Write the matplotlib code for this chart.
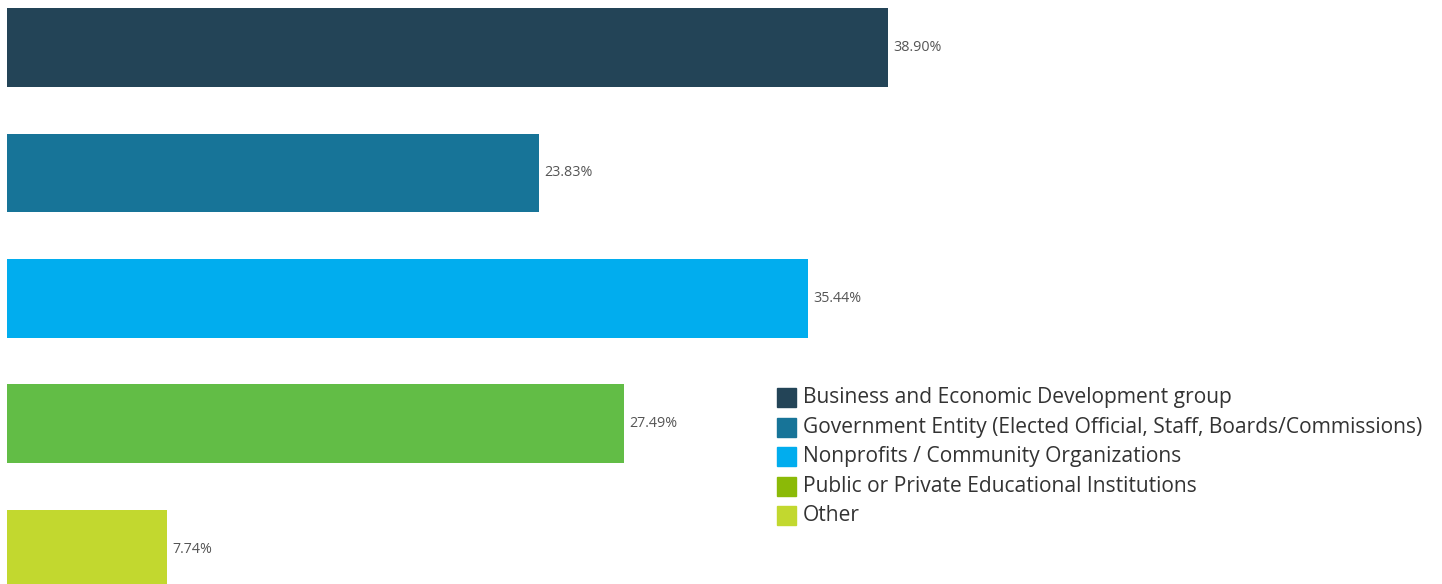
import matplotlib.pyplot as plt
from matplotlib.patches import Rectangle

categories = [
    "Business and Economic Development group",
    "Government Entity (Elected Official, Staff, Boards/Commissions)",
    "Nonprofits / Community Organizations",
    "Public or Private Educational Institutions",
    "Other",
]
values = [38.90, 23.83, 35.44, 27.49, 7.74]
bar_colors = ["#234457", "#177498", "#01adee", "#62bd46", "#c2d82f"]
legend_colors = ["#234457", "#177498", "#01adee", "#8bba07", "#c2d82f"]

W, H = 1442, 584
fig = plt.figure(figsize=(W / 100, H / 100), dpi=100)
plt.rcParams["font.family"] = ["Open Sans", "DejaVu Sans"]

# axes from x=7px to the right edge, full height
ax = fig.add_axes([7 / W, 0, 1 - 7 / W, 1])
px_per_pct = 23.14
x0 = 19 / px_per_pct
ax.set_xlim(x0, x0 + (W - 7) / px_per_pct)
spacing = 125.4
ax.set_ylim((H - 47.5) / spacing, -47.5 / spacing)

ypos = list(range(len(values)))
ax.barh(ypos, values, height=78.5 / spacing, color=bar_colors)
for y, v in zip(ypos, values):
    ax.text(v + 5 / px_per_pct, y, f"{v:.2f}%", va="center", ha="left",
            fontsize=10.3, color="#555555")
ax.axis("off")

# legend drawn by hand
for i, (lab, col) in enumerate(zip(categories, legend_colors)):
    yc = 397.5 + i * 29.5
    fig.patches.append(Rectangle((777 / W, 1 - (yc + 9.5) / H), 19 / W, 19 / H,
                                 transform=fig.transFigure, color=col))
    fig.text(803 / W, 1 - yc / H, lab, va="center", ha="left",
             fontsize=15.1, color="#333333")

fig.savefig("out.png", dpi=100)
